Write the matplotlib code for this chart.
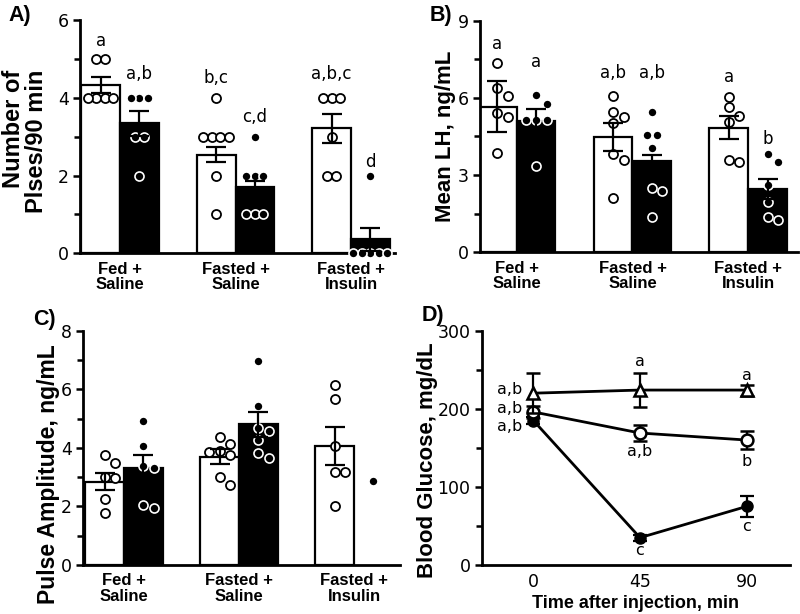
"""Four-panel figure: LH pulse parameters and blood glucose, fed vs fasted, saline vs insulin."""
import numpy as np
import matplotlib.pyplot as plt

plt.rcParams.update({
    "font.family": "DejaVu Sans", "font.size": 12.5,
    "axes.linewidth": 2.0, "xtick.labelsize": 12.5, "ytick.labelsize": 12.5,
})
BOLD = dict(family="Liberation Sans", weight="bold")

groups = ["Fed +\nSaline", "Fasted +\nSaline", "Fasted +\nInsulin"]

# A) number of pulses / 90 min
a_white = [4.33, 2.54, 3.21]
a_black = [3.34, 1.70, 0.36]
a_white_sem = [0.20, 0.20, 0.38]
a_black_sem = [0.32, 0.15, 0.30]
a_white_pts = [[5, 5, 4, 4, 4, 4], [4, 3, 3, 3, 3, 2, 1], [4, 4, 4, 3, 2, 2]]
a_black_pts = [[4, 4, 4, 3, 3, 2], [3, 2, 2, 2, 1, 1, 1], [2, 0, 0, 0, 0, 0]]
a_letters = ["a", "a,b", "b,c", "c,d", "a,b,c", "d"]

# B) mean LH, ng/mL
b_white = [5.66, 4.49, 4.84]
b_black = [5.11, 3.56, 2.46]
b_white_sem = [1.00, 0.55, 0.45]
b_black_sem = [0.45, 0.22, 0.38]
b_white_pts = [[7.37, 6.37, 6.09, 5.40, 5.25, 3.85],
               [6.07, 5.44, 5.25, 5.04, 3.82, 3.59, 2.10],
               [6.02, 5.63, 5.31, 5.08, 3.59, 3.50]]
b_black_pts = [[6.10, 5.75, 5.15, 5.15, 5.15, 3.35],
               [5.47, 4.56, 4.56, 4.04, 2.49, 2.39, 1.36],
               [3.82, 3.50, 2.62, 1.97, 1.39, 1.26]]
b_letters = ["a", "a", "a,b", "a,b", "a", "b"]

# C) pulse amplitude, ng/mL (no bar for fasted + insulin, single animal)
c_white = [2.84, 3.70, 4.06]
c_black = [3.30, 4.80, np.nan]
c_white_sem = [0.29, 0.25, 0.64]
c_black_sem = [0.45, 0.42, np.nan]
c_white_pts = [[3.75, 3.49, 3.01, 2.96, 2.25, 1.76],
               [4.38, 4.13, 3.89, 3.87, 3.76, 3.01, 2.73],
               [6.15, 5.67, 4.07, 3.19, 3.16, 2.01]]
c_black_pts = [[4.93, 4.06, 3.39, 3.30, 2.05, 1.94],
               [6.97, 5.44, 4.67, 4.57, 4.27, 3.83, 3.64],
               [2.88]]

# D) blood glucose, mg/dL
times = [0, 45, 90]
glc_tri = [220, 224, 224]
glc_tri_sem = [26, 22, 7]
glc_open = [196, 169, 160]
glc_open_sem = [8, 10, 11]
glc_fill = [185, 35, 75]
glc_fill_sem = [5, 4, 13]
d_letters = ["a,b", "a,b", "a,b", "a", "a", "a,b", "b", "c", "c"]

# label placement (layout only)
A_LET_Y = [5.45, 4.6, 4.5, 3.5, 4.6, 2.35]
B_LET_Y = [8.1, 7.4, 6.95, 6.95, 6.8, 4.4]
D_LET_XY = [(-4.5, 225), (-4.5, 201), (-4.5, 177), (45, 260), (90, 242),
            (45, 145), (90, 132), (90, 49), (45, 18)]
D_LET_HA = ["right"] * 3 + ["center"] * 6

W = 0.335
MS = 6.5


def swarm(ax, xc, vals, d_px):
    """Simple beeswarm in pixel space, equal-value rows centred."""
    vals = np.asarray(vals, float)
    pix = ax.transData.transform(np.column_stack([np.full(len(vals), xc), vals]))
    ys = pix[:, 1]
    off = np.zeros(len(vals))
    placed = []
    for i in np.argsort(-ys):
        cands = [0.0] + [s * k * d_px for k in range(1, 8) for s in (1, -1)]
        for c in cands:
            if all(np.hypot(c - off[j], ys[i] - ys[j]) >= d_px * 0.95 for j in placed):
                off[i] = c
                break
        placed.append(i)
    for yv in np.unique(np.round(ys, 3)):
        m = np.isclose(ys, yv, atol=1e-3)
        if m.sum() > 1:
            off[m] -= off[m].mean()
    xs = ax.transData.inverted().transform(np.column_stack([pix[:, 0] + off, ys]))[:, 0]
    return xs, vals


def style(ax):
    ax.spines[["top", "right"]].set_visible(False)
    ax.tick_params(axis="y", which="major", length=5, width=1.8, pad=3)
    ax.tick_params(axis="y", which="minor", length=4, width=1.8)


def bar_panel(ax, white, black, wsem, bsem, wpts, bpts, ylim, major, minor, xlim, d_px):
    ax.set_xlim(*xlim)
    ax.set_ylim(*ylim)
    x = np.arange(3)
    for xi, h in zip(x - W / 2, white):
        ax.bar(xi, h, W, color="white", edgecolor="black", lw=1.6, zorder=2)
    for xi, h in zip(x + W / 2, black):
        if not np.isnan(h):
            ax.bar(xi, h, W, color="black", edgecolor="black", lw=1.6, zorder=2)
    for xi, pts in zip(x - W / 2, wpts):
        xs, ys = swarm(ax, xi, pts, d_px)
        ax.plot(xs, ys, "o", ms=MS, mfc="white", mec="black", mew=1.3, zorder=3, clip_on=False)
    for xi, pts in zip(x + W / 2, bpts):
        xs, ys = swarm(ax, xi, pts, d_px)
        ax.plot(xs, ys, "o", ms=MS, mfc="black", mec="white", mew=1.2, zorder=3, clip_on=False)
    ax.errorbar(x - W / 2, white, yerr=wsem, fmt="none", ecolor="black",
                elinewidth=1.6, capsize=7, capthick=1.6, zorder=4)
    ok = ~np.isnan(np.asarray(black, float))
    ax.errorbar((x + W / 2)[ok], np.asarray(black)[ok], yerr=np.asarray(bsem)[ok], fmt="none",
                ecolor="black", elinewidth=1.6, capsize=7, capthick=1.6, zorder=4)
    ax.set_xticks(x, groups)
    for t in ax.get_xticklabels():
        t.set_fontproperties({"family": "Liberation Sans", "weight": "bold", "size": 12})
        t.set_linespacing(1.05)
    ax.set_yticks(major)
    ax.set_yticks(minor, minor=True)
    style(ax)
    ax.tick_params(axis="x", length=0, pad=6)


fig = plt.figure(figsize=(8, 6.14), dpi=100)
H = 614.0


def box(l, r, t, b):
    return [l / 800, 1 - b / H, (r - l) / 800, (b - t) / H]


axA = fig.add_axes(box(80, 395, 20, 253.3))
axB = fig.add_axes(box(480, 798, 20.7, 252.3))
axC = fig.add_axes(box(83.3, 400, 330.7, 565))
axD = fig.add_axes(box(481.7, 790, 330.7, 565))

bar_panel(axA, a_white, a_black, a_white_sem, a_black_sem, a_white_pts, a_black_pts,
          (0, 6), [0, 2, 4, 6], [1, 3, 5], (-0.346, 2.38), 8.5)
bar_panel(axB, b_white, b_black, b_white_sem, b_black_sem, b_white_pts, b_black_pts,
          (0, 9), [0, 3, 6, 9], [1.5, 4.5, 7.5], (-0.317, 2.43), 10.5)
bar_panel(axC, c_white, c_black, c_white_sem, c_black_sem, c_white_pts, c_black_pts,
          (0, 8), [0, 2, 4, 6, 8], [1, 3, 5, 7], (-0.354, 2.40), 10.5)

xs_let = [g + s * W / 2 for g in range(3) for s in (-1, 1)]
for xl, yl, t in zip(xs_let, A_LET_Y, a_letters):
    axA.text(xl, yl, t, ha="center", va="center", fontsize=12)
for xl, yl, t in zip(xs_let, B_LET_Y, b_letters):
    axB.text(xl, yl, t, ha="center", va="center", fontsize=12)

# D
axD.set_xlim(-21.8, 108.3)
axD.set_ylim(0, 300)
ekw = dict(color="black", lw=2.0, capsize=5, capthick=1.6, elinewidth=1.6, clip_on=False)
axD.errorbar(times, glc_fill, yerr=glc_fill_sem, marker="o", ms=8, mfc="black", mec="black", zorder=3, **ekw)
axD.errorbar(times, glc_open, yerr=glc_open_sem, marker="o", ms=8.5, mfc="white", mec="black", mew=1.8, zorder=4, **ekw)
axD.errorbar(times, glc_tri, yerr=glc_tri_sem, marker="^", ms=9, mfc="white", mec="black", mew=1.8, zorder=5, **ekw)
axD.set_xticks(times)
axD.set_yticks([0, 100, 200, 300])
axD.set_yticks([50, 150, 250], minor=True)
style(axD)
axD.tick_params(axis="x", length=0, pad=6)
for (xl, yl), t, ha in zip(D_LET_XY, d_letters, D_LET_HA):
    axD.text(xl, yl, t, ha=ha, va="center", fontsize=11.5)
axD.set_xlabel("Time after injection, min", fontsize=13, labelpad=3, **BOLD)

# y labels and panel letters
fig.text(25 / 800, 1 - 70 / H, "Number of\nPlses/90 min", rotation=90, ha="center", va="top",
         multialignment="right", fontsize=17, linespacing=1.05, **BOLD)
fig.text(445 / 800, 1 - 136.5 / H, "Mean LH, ng/mL", rotation=90, ha="center", va="center", fontsize=16, **BOLD)
fig.text(49 / 800, 1 - 474 / H, "Pulse Amplitude, ng/mL", rotation=90, ha="center", va="center", fontsize=16.5, **BOLD)
fig.text(428 / 800, 1 - 460 / H, "Blood Glucose, mg/dL", rotation=90, ha="center", va="center", fontsize=16, **BOLD)
for x, y, t in [(8, 15, "A)"), (430, 15, "B)"), (33, 320, "C)"), (422, 315, "D)")]:
    fig.text(x / 800, 1 - y / H, t, ha="left", va="center", fontsize=15.5, **BOLD)

fig.savefig("out.png", dpi=100)
